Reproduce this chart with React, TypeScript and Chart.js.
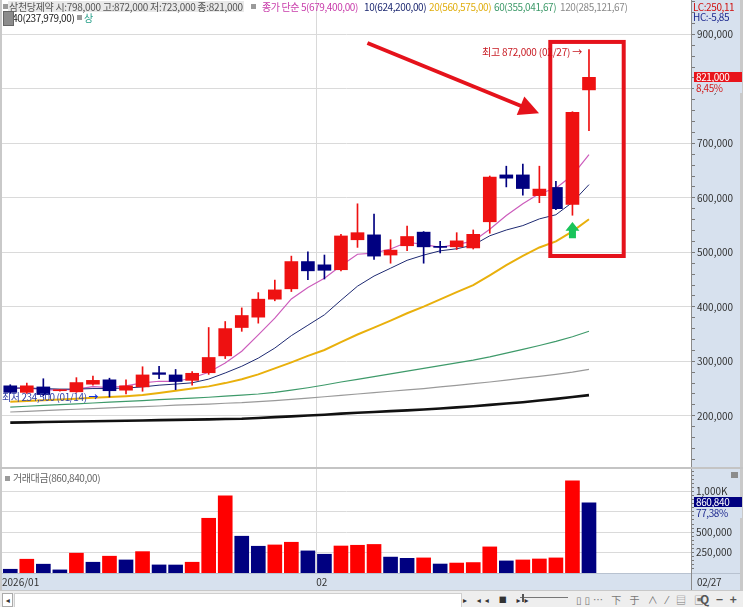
import React, { useEffect, useRef } from 'react';
import { Chart, registerables } from 'chart.js';

Chart.register(...registerables);

// ---------- data ----------
const dates = ['01/06','01/07','01/08','01/09','01/12','01/13','01/14','01/15','01/16','01/19','01/20','01/21','01/22','01/23','01/26','01/27','01/28','01/29','01/30',
  '02/02','02/03','02/04','02/05','02/06','02/09','02/10','02/11','02/12','02/13','02/19','02/20','02/23','02/24','02/25','02/26','02/27'];

const openPrices = [255000,243000,253000,246000,244000,258000,266000,247000,253000,279000,275000,265000,279000,310000,362000,381000,414000,433000,483000,477000,
  468000,523000,532000,495000,512000,537000,511000,510000,508000,556000,642000,642000,604000,619000,588000,798000];
const highPrices = [257000,260000,268000,248000,270000,273000,269000,266000,290000,291000,285000,281000,362000,373000,398000,426000,449000,493000,501000,495000,
  533000,589000,570000,523000,548000,538000,520000,536000,541000,640000,658000,662000,658000,630000,758000,872000];
const lowPrices = [241000,241000,237000,245000,243000,256000,234500,240000,245000,268000,248000,256000,276000,305000,355000,370000,411000,428000,450000,451000,
  466000,509000,487000,480000,503000,480000,499000,505000,506000,535000,620000,605000,591000,578000,568000,723000];
const closePrices = [243000,255000,239000,247000,261000,265000,246000,255000,275000,276000,263000,278000,307000,360000,384000,414000,431000,483000,466000,467000,
  530000,536000,493000,504000,529000,510000,509000,521000,533000,638000,636000,617000,616000,580000,757000,821000];

const tradeValue = [46000,169000,108000,38000,243000,132000,206000,160000,262000,99000,98000,132000,671000,945000,451000,328000,344000,377000,271000,230000,
  331000,340000,350000,195000,180000,185000,110000,122000,128000,320000,148000,160000,172000,185000,1130000,860840];

const ma5 = [250000,251000,248000,247000,249000,253400,251600,254800,260400,263400,263000,269400,279800,296800,318400,348600,379200,414400,435600,452200,
  475400,496400,498400,506000,518400,514400,509000,514600,520400,542200,567400,589000,608000,617400,641200,679400];
const ma10 = [251000,251000,250000,249000,249000,250000,250000,251000,253000,256200,258200,260500,267300,278600,290900,305800,324300,347100,366200,385300,
  412000,437800,456400,470800,485300,494900,502700,506500,513200,530300,540900,549000,561300,568900,591700,624200];
const ma20 = [226000,227000,228500,230000,231500,233000,234500,236000,238000,242000,246000,250000,254000,260000,267000,276000,287000,298000,310000,320750,
  335100,349200,361900,374700,388100,400400,413500,426800,439700,457800,476500,493400,508900,519900,538500,560575];
const ma60 = [216000,217500,219000,220500,222000,223500,225000,226500,228000,229500,231000,232500,234000,236000,238000,240000,243000,247000,251500,256500,
  262000,267000,272000,277000,282000,287000,292000,297000,302000,308000,315000,322000,329000,336500,345000,355042];
const ma120 = [207000,208000,209500,211000,212000,213000,214500,216000,217000,218000,219500,220500,221500,223000,224000,226000,228000,230000,232500,235000,
  237500,240000,242500,245000,247500,250000,253000,256000,259000,262000,265500,269000,272500,276000,280000,285122];
const ma240 = [187500,188000,188500,189000,189500,190000,190500,191000,191500,192000,192500,193000,193500,194000,194500,196000,197500,199000,200500,202000,
  204000,205500,207000,208500,210000,211500,213500,215500,217500,220000,222500,225000,228000,231000,234500,237979];

const priceTickLabels = [200000, 300000, 400000, 500000, 600000, 700000, 800000, 900000];
const valueTickLabels = [250000, 500000, 750000, 1000000];

// hand-drawn marks on the chart (in data units)
const highlightBox = { fromIndex: 32.66, toIndex: 37.1, topPrice: 886000, bottomPrice: 493200 };
const bigArrow = { fromIndex: 21.6, fromPrice: 884000, toIndex: 31.98, toPrice: 755000 };
const greenArrow = { index: 34, tipPrice: 555600, basePrice: 526000 };

const RED = '#ee1111';
const NAVY = '#000080';
const PANEL = '#d7e1ee';
const FONT = "'Noto Sans CJK KR', 'DejaVu Sans', sans-serif";
const X_MIN = -0.5;
const X_MAX = 41.17;

const markPlugin = {
  id: 'handMarks',
  afterDatasetsDraw(chart: any) {
    const { ctx } = chart;
    const xs = chart.scales.x;
    const ys = chart.scales.y;
    ctx.save();
    const bx1 = xs.getPixelForValue(highlightBox.fromIndex);
    const bx2 = xs.getPixelForValue(highlightBox.toIndex);
    const by1 = ys.getPixelForValue(highlightBox.topPrice);
    const by2 = ys.getPixelForValue(highlightBox.bottomPrice);
    ctx.strokeStyle = '#e5121b';
    ctx.lineWidth = 4;
    ctx.strokeRect(bx1, by1, bx2 - bx1, by2 - by1);
    const ax1 = xs.getPixelForValue(bigArrow.fromIndex);
    const ay1 = ys.getPixelForValue(bigArrow.fromPrice);
    const ax2 = xs.getPixelForValue(bigArrow.toIndex);
    const ay2 = ys.getPixelForValue(bigArrow.toPrice);
    const ang = Math.atan2(ay2 - ay1, ax2 - ax1);
    const headLen = 20;
    const headW = 10;
    const hx = ax2 - headLen * Math.cos(ang);
    const hy = ay2 - headLen * Math.sin(ang);
    ctx.beginPath();
    ctx.moveTo(ax1, ay1);
    ctx.lineTo(hx + 4 * Math.cos(ang), hy + 4 * Math.sin(ang));
    ctx.stroke();
    ctx.fillStyle = '#e5121b';
    ctx.beginPath();
    ctx.moveTo(ax2, ay2);
    ctx.lineTo(hx - headW * Math.sin(ang), hy + headW * Math.cos(ang));
    ctx.lineTo(hx + headW * Math.sin(ang), hy - headW * Math.cos(ang));
    ctx.closePath();
    ctx.fill();
    const gx = xs.getPixelForValue(greenArrow.index);
    const gt = ys.getPixelForValue(greenArrow.tipPrice);
    const gb = ys.getPixelForValue(greenArrow.basePrice);
    const mid = gt + (gb - gt) * 0.55;
    ctx.fillStyle = '#19c45a';
    ctx.beginPath();
    ctx.moveTo(gx, gt);
    ctx.lineTo(gx + 7, mid);
    ctx.lineTo(gx + 3.5, mid);
    ctx.lineTo(gx + 3.5, gb);
    ctx.lineTo(gx - 3.5, gb);
    ctx.lineTo(gx - 3.5, mid);
    ctx.lineTo(gx - 7, mid);
    ctx.closePath();
    ctx.fill();
    ctx.restore();
  },
};

function fmt(v: number) {
  return v.toLocaleString('en-US');
}

export default function App() {
  const priceRef = useRef<HTMLCanvasElement>(null);
  const volRef = useRef<HTMLCanvasElement>(null);

  useEffect(() => {
    document.body.style.margin = '0';
    const idx = dates.map((_, i) => i);
    const candleColors = idx.map((i) => (closePrices[i] >= openPrices[i] ? RED : NAVY));
    const volColors = idx.map((i) => (i > 0 && tradeValue[i] > tradeValue[i - 1] ? '#ff0000' : NAVY));
    const firstFeb = dates.findIndex((d) => d.startsWith('02'));
    const monthBoundary = firstFeb - 0.5;

    const maLine = (vals: number[], color: string, width: number) => ({
      type: 'line' as const,
      data: vals.map((v, i) => ({ x: i, y: v })),
      borderColor: color,
      borderWidth: width,
      pointRadius: 0,
      tension: 0,
      fill: false,
      order: 3,
    });

    const priceMarks: number[] = [];
    for (let v = 120000; v <= 960000; v += 20000) priceMarks.push(v);
    const volMarks: number[] = [];
    for (let v = 50000; v <= 1250000; v += 50000) volMarks.push(v);

    const price = new Chart(priceRef.current as HTMLCanvasElement, {
      type: 'bar',
      data: {
        datasets: [
          {
            type: 'bar',
            data: idx.map((i) => ({ x: i, y: [openPrices[i], closePrices[i]] })) as any,
            backgroundColor: candleColors,
            barThickness: 13,
            grouped: false,
            minBarLength: 1,
            borderWidth: 0,
            order: 0,
          } as any,
          {
            type: 'bar',
            data: idx.map((i) => ({ x: i, y: [lowPrices[i], highPrices[i]] })) as any,
            backgroundColor: candleColors,
            barThickness: 1,
            grouped: false,
            borderWidth: 0,
            order: 1,
          } as any,
          maLine(ma240, '#111111', 2.6),
          maLine(ma120, '#9a9a9a', 1.2),
          maLine(ma60, '#3e9a6a', 1.2),
          maLine(ma20, '#e9b00c', 2),
          maLine(ma10, '#1e2a72', 1),
          maLine(ma5, '#cc5cbc', 1.2),
        ] as any,
      },
      options: {
        responsive: false,
        animation: false,
        events: [],
        layout: { padding: { left: 2, top: 0, right: 0, bottom: 1 } },
        plugins: { legend: { display: false }, tooltip: { enabled: false } },
        scales: {
          x: {
            type: 'linear',
            offset: false,
            min: X_MIN,
            max: X_MAX,
            afterBuildTicks: (s: any) => { s.ticks = [{ value: monthBoundary }]; },
            ticks: { display: false },
            grid: { color: '#d9d9d9', drawTicks: false, offset: false },
            border: { display: false },
            afterFit: (s: any) => { s.height = 0; s.paddingLeft = 0; s.paddingRight = 0; },
          },
          y: {
            position: 'right',
            min: 106055,
            max: 962936,
            afterBuildTicks: (s: any) => { s.ticks = priceMarks.map((v) => ({ value: v })); },
            ticks: {
              autoSkip: false,
              padding: 2,
              color: '#333',
              font: { family: FONT, size: 10 },
              callback: (v: any) => (priceTickLabels.includes(v) ? fmt(v) : ''),
            },
            grid: {
              color: (c: any) => (c.tick && c.tick.value % 100000 === 0 ? '#dadada' : 'rgba(0,0,0,0)'),
              tickColor: '#7a7a7a',
              tickLength: 4,
            },
            border: { display: true, color: '#8a8a8a' },
            afterFit: (s: any) => { s.width = 52; s.paddingTop = 0; s.paddingBottom = 0; },
          },
        },
      } as any,
      plugins: [markPlugin],
    });

    const vol = new Chart(volRef.current as HTMLCanvasElement, {
      type: 'bar',
      data: {
        datasets: [
          {
            data: idx.map((i) => ({ x: i, y: tradeValue[i] })) as any,
            backgroundColor: volColors,
            barThickness: 14,
            borderWidth: 0,
          } as any,
        ],
      },
      options: {
        responsive: false,
        animation: false,
        events: [],
        layout: { padding: { left: 2, top: 0, right: 0, bottom: 0 } },
        plugins: { legend: { display: false }, tooltip: { enabled: false } },
        scales: {
          x: {
            type: 'linear',
            offset: false,
            min: X_MIN,
            max: X_MAX,
            afterBuildTicks: (s: any) => { s.ticks = [{ value: X_MIN }, { value: monthBoundary }]; },
            ticks: {
              align: 'start',
              maxRotation: 0,
              autoSkip: false,
              padding: 3,
              color: '#333',
              font: { family: FONT, size: 10 },
              callback: (v: any) => (v === X_MIN ? '2026/' + dates[0].slice(0, 2) : dates[firstFeb].slice(0, 2)),
            },
            grid: {
              color: (c: any) => (c.tick && c.tick.value === monthBoundary ? '#d9d9d9' : 'rgba(0,0,0,0)'),
              drawTicks: false,
              offset: false,
            },
            border: { display: false },
            afterFit: (s: any) => { s.height = 17; s.paddingLeft = 0; s.paddingRight = 0; },
          },
          y: {
            position: 'right',
            min: 0,
            max: 1275000,
            afterBuildTicks: (s: any) => { s.ticks = volMarks.map((v) => ({ value: v })); },
            ticks: {
              autoSkip: false,
              padding: 2,
              color: '#333',
              font: { family: FONT, size: 10 },
              callback: (v: any) => (valueTickLabels.includes(v) ? (v >= 1000000 ? fmt(v / 1000) + 'K' : fmt(v)) : ''),
            },
            grid: {
              color: (c: any) => (c.tick && valueTickLabels.includes(c.tick.value) ? '#dadada' : 'rgba(0,0,0,0)'),
              tickColor: '#7a7a7a',
              tickLength: 3,
            },
            border: { display: true, color: '#8a8a8a' },
            afterFit: (s: any) => { s.width = 52; s.paddingTop = 0; s.paddingBottom = 0; },
          },
        },
      } as any,
    });

    return () => {
      price.destroy();
      vol.destroy();
    };
  }, []);

  const txt = (extra: React.CSSProperties): React.CSSProperties => ({
    position: 'absolute',
    fontFamily: FONT,
    fontSize: 10,
    lineHeight: '11px',
    whiteSpace: 'nowrap',
    letterSpacing: -0.4,
    ...extra,
  });
  const bullet = (left: number, top: number): React.CSSProperties => ({
    position: 'absolute', left, top, width: 5, height: 5, background: '#9a9a9a',
  });

  return (
    <div style={{ position: 'absolute', left: 0, top: 0, width: 743, height: 607, background: '#fff', overflow: 'hidden' }}>
      <div style={{ position: 'absolute', left: 691, top: 0, width: 52, height: 590, background: PANEL }} />
      <div style={{ position: 'absolute', left: 0, top: 573, width: 743, height: 17, background: PANEL, borderTop: '1px solid #b8c2d0' }} />
      <div style={{ position: 'absolute', left: 691, top: 0, width: 1, height: 590, background: '#8a8a8a' }} />
      <div style={{ position: 'absolute', left: 740, top: 0, width: 3, height: 590, background: '#c9c9c9' }} />
      <div style={{ position: 'absolute', left: 0, top: 0, width: 2, height: 590, background: '#c9c9c9' }} />

      <canvas ref={priceRef} width={743} height={468} style={{ position: 'absolute', left: 0, top: 0 }} />
      <canvas ref={volRef} width={743} height={121} style={{ position: 'absolute', left: 0, top: 469 }} />

      <div style={{ position: 'absolute', left: 0, top: 467, width: 743, height: 2, background: '#c4c4c4' }} />

      {/* price legend */}
      <div style={bullet(3, 4)} />
      <div style={txt({ left: 8, top: 1, color: '#555', background: '#e9e9e9', padding: '0 1px', letterSpacing: -0.3 })}>삼천당제약 시:798,000 고:872,000 저:723,000 종:821,000</div>
      <div style={bullet(251, 4)} />
      <div style={txt({ left: 262, top: 1, color: '#c83caa' })}>종가 단순 5(679,400,00)</div>
      <div style={txt({ left: 364, top: 1, color: '#1e2a72' })}>10(624,200,00)</div>
      <div style={txt({ left: 429, top: 1, color: '#e0ae10' })}>20(560,575,00)</div>
      <div style={txt({ left: 494, top: 1, color: '#3e9a6a' })}>60(355,041,67)</div>
      <div style={txt({ left: 560, top: 1, color: '#8a8a8a' })}>120(285,121,67)</div>
      <div style={txt({ left: 7, top: 12, color: '#222' })}>240(237,979,00)</div>
      <div style={{ position: 'absolute', left: 3, top: 11, width: 9, height: 13, background: '#8c8c8c', border: '1px solid #666' }} />
      <div style={bullet(77, 15)} />
      <div style={txt({ left: 84, top: 12, color: '#2aa08a' })}>상</div>

      <div style={txt({ left: 693, top: 1, color: '#d01010' })}>LC:250,11</div>
      <div style={txt({ left: 693, top: 11, color: '#1e2a90' })}>HC:-5,85</div>

      <div style={txt({ left: 694, top: 72, width: 46, height: 10, lineHeight: '10px', background: '#e8141b', color: '#fff', paddingLeft: 2 })}>821,000</div>
      <div style={txt({ left: 694, top: 82, width: 46, height: 11, background: PANEL, color: '#d02020', paddingLeft: 2 })}>8,45%</div>

      <div style={txt({ left: 482, top: 46, color: '#c81a22', letterSpacing: -0.2 })}>최고 872,000 (02/27) →</div>
      <div style={txt({ left: 2, top: 391, color: '#3442a8' })}>최저 234,500 (01/14) <span style={{ color: '#1030e0', fontWeight: 700 }}>→</span></div>

      <div style={bullet(5, 476)} />
      <div style={txt({ left: 13, top: 472, color: '#666' })}>거래대금(860,840,00)</div>
      <div style={{ position: 'absolute', left: 731, top: 472, width: 7, height: 6, background: '#8c8c8c' }} />
      <div style={txt({ left: 694, top: 497, width: 46, height: 10, lineHeight: '10px', background: '#000080', color: '#fff', paddingLeft: 2 })}>860,840</div>
      <div style={txt({ left: 694, top: 507, width: 46, height: 11, background: PANEL, color: '#1e2a90', paddingLeft: 2 })}>77,38%</div>

      <div style={txt({ left: 697, top: 576, color: '#333' })}>02/27</div>

      <div style={{ position: 'absolute', left: 0, top: 590, width: 743, height: 17, background: '#eeeeee', borderTop: '1px solid #c8c8c8' }}>
        <div style={txt({ left: 2, top: 2, width: 9, height: 12, background: '#fff', border: '1px solid #aaa', fontSize: 8, textAlign: 'center', lineHeight: '12px', color: '#333' })}>◂</div>
        <div style={{ position: 'absolute', left: 14, top: 2, width: 446, height: 13, background: '#fff', border: '1px solid #cfcfcf' }} />
        <div style={txt({ left: 463, top: 2, color: '#333', fontSize: 8, letterSpacing: 4, lineHeight: '13px' })}>▸ ◂◂ ■ ▸▸</div>
        <div style={{ position: 'absolute', left: 520, top: 6, width: 48, height: 1, background: '#777' }} />
        <div style={{ position: 'absolute', left: 522, top: 3, width: 2, height: 8, background: '#555' }} />
        <div style={txt({ left: 576, top: 2, color: '#777', fontSize: 10, letterSpacing: 3, lineHeight: '13px' })}>▯▯⋯ 下 于 ∧ ⁄ ▤ ▣</div>
        <div style={txt({ left: 700, top: 1, color: '#555', fontSize: 12, letterSpacing: 2, lineHeight: '14px', fontWeight: 700 })}>Q − + A</div>
      </div>
    </div>
  );
}
